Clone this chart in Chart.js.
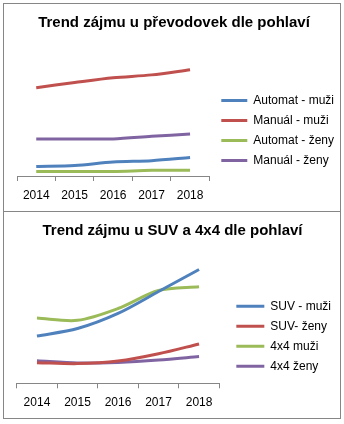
<!DOCTYPE html>
<html>
<head>
<meta charset="utf-8">
<script src="https://cdn.jsdelivr.net/npm/chart.js@4/dist/chart.umd.min.js"></script>
<style>
  body { margin: 0; background: #fff; }
  .panel { position: absolute; left: 3px; width: 338px; box-sizing: border-box; border: 1px solid #868686; overflow: hidden; background: #fff; }
  .panel canvas { position: absolute; left: 0; top: 0; }
</style>
</head>
<body>
<div class="panel" style="top:3px;height:209px"><canvas id="prevodovky" width="340" height="206"></canvas></div>
<div class="panel" style="top:211px;height:208px"><canvas id="suv" width="340" height="205"></canvas></div>
<script>
const years = ['2014', '2015', '2016', '2017', '2018'];

// prevodovky
const automatMuzi = [7.5, 8.2, 11, 12, 14.4];
const manualMuzi = [69, 73, 76.7, 79, 83];
const automatZeny = [3.6, 3.6, 3.6, 4.4, 4.4];
const manualZeny = [29, 29, 29, 31, 32.8];

// SUV a 4x4
const suvMuzi = [38.4, 44.5, 56.8, 74.6, 92.5];
const suvZeny = [16.8, 16, 18.1, 24, 32];
const muzi4x4 = [53, 51.2, 60.8, 75.4, 78.4];
const zeny4x4 = [18.4, 16.5, 17, 18.9, 21.8];

const blue = '#4f81bd', red = '#c0504d', green = '#9bbb59', purple = '#8064a2';

Chart.defaults.font.family = "'Liberation Sans', Arial, sans-serif";
Chart.defaults.color = '#000';

function line(label, data, color) {
    return {
        label: label,
        data: data,
        borderColor: color,
        backgroundColor: color,
        borderWidth: 3,
        pointRadius: 0,
        pointStyle: 'line',
        tension: 0.3
    };
}

function makeChart(id, title, datasets, cfg) {
    new Chart(document.getElementById(id), {
        type: 'line',
        data: { labels: years, datasets: datasets },
        options: {
            responsive: false,
            animation: false,
            layout: { padding: { left: 0, right: cfg.right, top: 0, bottom: cfg.bottom } },
            scales: {
                x: {
                    offset: true,
                    grid: { offset: true, drawOnChartArea: false, color: '#868686', tickLength: 5 },
                    border: { color: '#868686' },
                    ticks: { padding: 7, font: { size: 12 } }
                },
                // hidden axes: values on y, spacers left of the plot and before the legend
                y: {
                    display: false,
                    position: 'right',
                    min: 0,
                    max: 100,
                    afterFit: s => { s.width = cfg.gap; }
                },
                yL: {
                    display: false,
                    position: 'left',
                    afterFit: s => { s.width = cfg.left; }
                }
            },
            plugins: {
                title: {
                    display: true,
                    text: title,
                    font: { size: 15, weight: 'bold' },
                    padding: { top: cfg.titleTop, bottom: cfg.titleBottom }
                },
                legend: {
                    position: 'right',
                    title: { display: true, text: '', font: { size: cfg.legendShift, lineHeight: 1 }, padding: 0 },
                    labels: {
                        usePointStyle: true,
                        pointStyleWidth: cfg.box,
                        padding: 8,
                        font: { size: 12 }
                    }
                },
                tooltip: { enabled: false }
            }
        }
    });
}

makeChart('prevodovky', 'Trend zájmu u převodovek dle pohlaví', [
    line('Automat - muži', automatMuzi, blue),
    line('Manuál - muži', manualMuzi, red),
    line('Automat - ženy', automatZeny, green),
    line('Manuál - ženy', manualZeny, purple)
], { left: 13, right: 0, bottom: 0.6, gap: 4, box: 26, titleTop: 10, titleBottom: 16, legendShift: 47.6 });

makeChart('suv', 'Trend zájmu u SUV a 4x4 dle pohlaví', [
    line('SUV - muži', suvMuzi, blue),
    line('SUV- ženy', suvZeny, red),
    line('4x4 muži', muzi4x4, green),
    line('4x4 ženy', zeny4x4, purple)
], { left: 12.7, right: 3, bottom: 0.3, gap: 9, box: 28, titleTop: 10, titleBottom: 20.3, legendShift: 43.7 });
</script>
</body>
</html>
